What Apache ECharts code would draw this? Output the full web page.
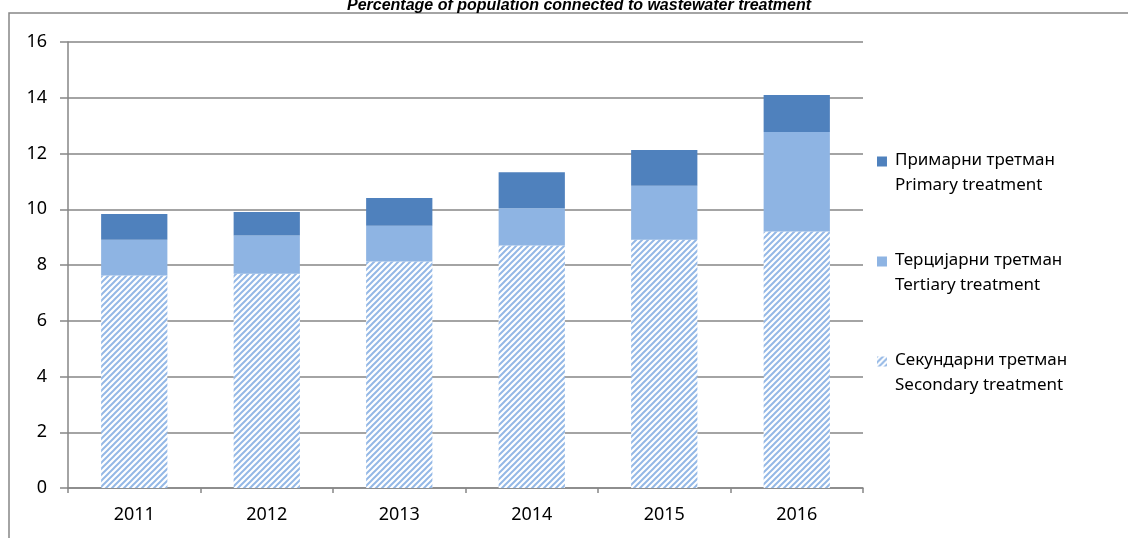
<!DOCTYPE html>
<html>
<head>
<meta charset="utf-8">
<style>
  html, body { margin: 0; padding: 0; background: #fff; }
  #chart { width: 1128px; height: 538px; }
</style>
<script src="https://cdn.jsdelivr.net/npm/echarts@6/dist/echarts.min.js"></script>
</head>
<body>
<div id="chart"></div>
<script>
// data
var years = ['2011', '2012', '2013', '2014', '2015', '2016']
var secondary = [7.62, 7.69, 8.13, 8.70, 8.91, 9.20]
var tertiary = [1.29, 1.37, 1.28, 1.34, 1.93, 3.57]
var primary = [0.92, 0.84, 0.99, 1.29, 1.29, 1.33]
var namesMk = ['Примарни третман', 'Терцијарни третман', 'Секундарни третман']
var namesEn = ['Primary treatment', 'Tertiary treatment', 'Secondary treatment']
var titleText = 'Percentage of population connected to wastewater treatment'

// hatch for secondary treatment
function hatch () {
  var c = document.createElement('canvas')
  c.width = 6
  c.height = 6
  var ctx = c.getContext('2d')
  ctx.fillStyle = '#fff'
  ctx.fillRect(0, 0, 6, 6)
  ctx.strokeStyle = '#94B8E6'
  ctx.lineWidth = 2
  ctx.beginPath()
  ctx.moveTo(-3, 3); ctx.lineTo(3, -3)
  ctx.moveTo(0, 6); ctx.lineTo(6, 0)
  ctx.moveTo(3, 9); ctx.lineTo(9, 3)
  ctx.stroke()
  return c
}

var seriesName = function (i) { return namesMk[i] + '\n' + namesEn[i] }
var gray = '#868686'

var option = {
  animation: false,
  title: {
    text: titleText,
    left: 574,
    top: -7,
    textAlign: 'center',
    textStyle: {
      fontFamily: 'Liberation Sans',
      fontSize: 16,
      fontStyle: 'italic',
      fontWeight: 'bold',
      color: '#000'
    }
  },
  graphic: [{
    type: 'polyline',
    silent: true,
    shape: { points: [[9, 538], [9, 13], [1128, 13]] },
    style: { stroke: gray, lineWidth: 1.5, fill: null }
  }],
  grid: {
    left: 68,
    right: 265,
    top: 42,
    bottom: 50
  },
  legend: {
    orient: 'vertical',
    left: 877,
    top: 148,
    padding: 0,
    itemGap: 50,
    itemWidth: 10,
    itemHeight: 33,
    icon: 'path://M0,0H10V10H0Z M0,33H0.1V33.1H0Z',
    data: [seriesName(0), seriesName(1), seriesName(2)],
    textStyle: {
      fontFamily: 'Noto Sans',
      fontSize: 17,
      lineHeight: 25,
      color: '#000',
      padding: [0, 0, 0, 3]
    }
  },
  xAxis: {
    type: 'category',
    data: years,
    axisLine: { lineStyle: { color: gray, width: 1.5 } },
    axisTick: { show: true, length: 5, lineStyle: { color: gray, width: 1.5 } },
    axisLabel: {
      margin: 18,
      fontFamily: 'Noto Sans',
      fontSize: 18,
      color: '#000'
    }
  },
  yAxis: {
    type: 'value',
    min: 0,
    max: 16,
    interval: 2,
    axisLine: { show: true, lineStyle: { color: gray, width: 1.5 } },
    axisTick: { show: true, length: 8, lineStyle: { color: gray, width: 1.5 } },
    splitLine: { lineStyle: { color: gray, width: 1.5 } },
    axisLabel: {
      margin: 21,
      fontFamily: 'Noto Sans',
      fontSize: 18,
      color: '#000'
    }
  },
  series: [
    {
      name: seriesName(2),
      type: 'bar',
      stack: 'all',
      barWidth: '50%',
      itemStyle: { color: { image: hatch(), repeat: 'repeat' } },
      data: secondary
    },
    {
      name: seriesName(1),
      type: 'bar',
      stack: 'all',
      itemStyle: { color: '#8EB4E3' },
      data: tertiary
    },
    {
      name: seriesName(0),
      type: 'bar',
      stack: 'all',
      itemStyle: { color: '#4F81BD' },
      data: primary
    }
  ]
}

var myChart = echarts.init(document.getElementById('chart'))
myChart.setOption(option)
</script>
</body>
</html>
